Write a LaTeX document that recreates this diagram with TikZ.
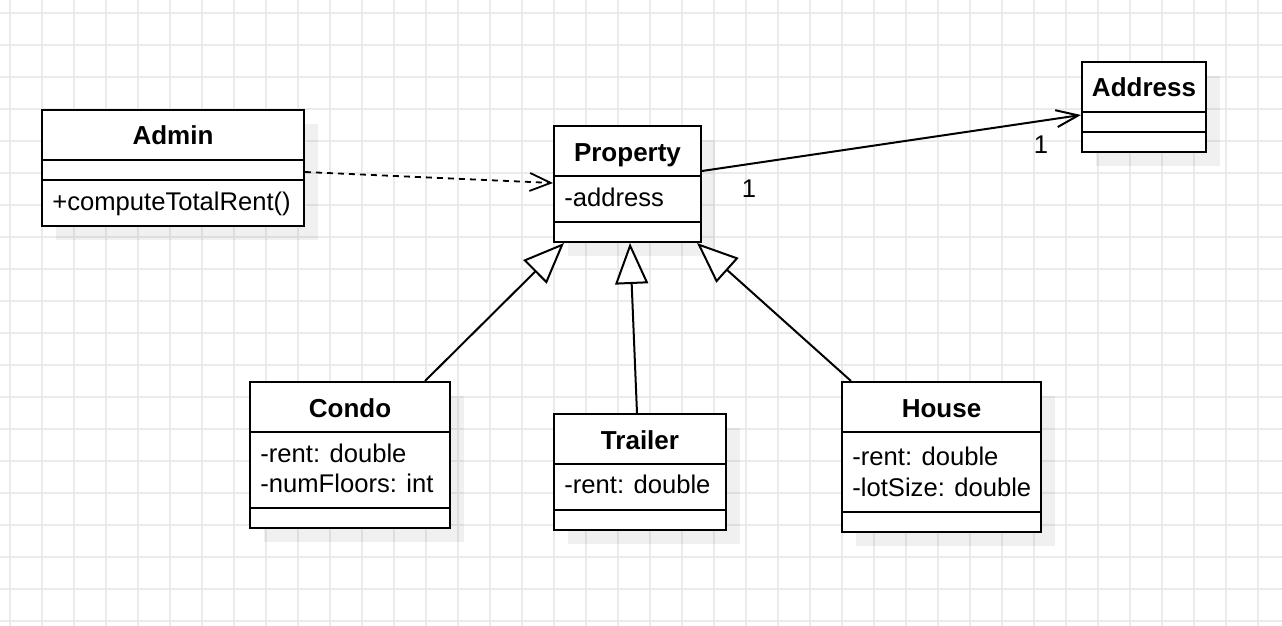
\documentclass[tikz,border=0pt]{standalone}
\usepackage{fontspec}
\setmainfont{Liberation Sans}
\usetikzlibrary{arrows.meta}
\usetikzlibrary{calc}
\usetikzlibrary{fit}
\usetikzlibrary{shadows}

\tikzset{
  classbox/.style={draw, line width=1pt, fill=white, inner sep=0pt,
    drop shadow={shadow xshift=7pt, shadow yshift=-7pt, fill=black, opacity=0.06}},
  classname/.style={inner sep=0pt, anchor=base, font=\fontsize{13}{15}\selectfont\bfseries},
  member/.style={inner sep=0pt, anchor=base west, font=\fontsize{12.8}{15}\selectfont},
  mult/.style={inner sep=0pt, anchor=base, font=\fontsize{12.8}{15}\selectfont},
  gridline/.style={draw=black!8, line width=0.8pt},
  sepline/.style={line width=1pt},
  dependency/.style={line width=0.9pt, dash pattern=on 3pt off 2.5pt,
    -{Straight Barb[length=10.5pt,width=9pt]}},
  association/.style={line width=1pt, -{Straight Barb[length=11pt,width=8.5pt]}},
  inherit/.style={line width=1pt, -{Triangle[length=20.5pt,width=16.5pt,fill=white]}}
}

\begin{document}
\begin{tikzpicture}[x=0.5pt,y=-0.5pt]
\useasboundingbox (0,0) rectangle (1282,626);
\fill[white] (0,0) rectangle (1282,626);

% grid
\foreach \gx in {10,42,...,1282} \draw[gridline] (\gx,0) -- (\gx,626);
\foreach \gy in {13,45,...,626} \draw[gridline] (0,\gy) -- (1282,\gy);

% classes
\node[classbox, fit={(42,110) (304,226)}] (admin) {};
\draw[sepline] (42,160) -- (304,160);
\draw[sepline] (42,180) -- (304,180);
\node[classname] (admin name) at (173,145) {Admin};
\node[member] (admin op) at (52,211) {+computeTotalRent()};

\node[classbox, fit={(554,126) (701,242)}] (property) {};
\draw[sepline] (554,176) -- (701,176);
\draw[sepline] (554,222) -- (701,222);
\node[classname] (property name) at (627.5,161.5) {Property};
\node[member] (property attr) at (564,206) {-address};

\node[classbox, fit={(1082,62) (1206,152)}] (address) {};
\draw[sepline] (1082,112) -- (1206,112);
\draw[sepline] (1082,132) -- (1206,132);
\node[classname] (address name) at (1144,96.5) {Address};

\node[classbox, fit={(250,382) (450,528)}] (condo) {};
\draw[sepline] (250,432) -- (450,432);
\draw[sepline] (250,508) -- (450,508);
\node[classname] (condo name) at (350,417) {Condo};
\node[member] (condo rent) at (260,462) {-rent: double};
\node[member] (condo floors) at (260,492) {-numFloors: int};

\node[classbox, fit={(554,414) (726,530)}] (trailer) {};
\draw[sepline] (554,464) -- (726,464);
\draw[sepline] (554,510) -- (726,510);
\node[classname] (trailer name) at (640,449) {Trailer};
\node[member] (trailer rent) at (564,494) {-rent: double};

\node[classbox, fit={(842,382) (1041,532)}] (house) {};
\draw[sepline] (842,432) -- (1041,432);
\draw[sepline] (842,512) -- (1041,512);
\node[classname] (house name) at (941.5,417) {House};
\node[member] (house rent) at (852,466) {-rent: double};
\node[member] (house lot) at (852,496) {-lotSize: double};

% relations
\draw[dependency] ($(admin.east)+(0,4)$) -- ($(property.west)+(0,-1)$);
\draw[association] ($(property.east)+(0,-13)$) -- ($(address.west)+(0,8)$);
\node[mult] (mult property) at (749,198) {1};
\node[mult] (mult address) at (1041,154) {1};

\draw[inherit] ($(condo.north east)+(-26,0)$) -- ($(property.south west)+(11,0)$);
\draw[inherit] ($(trailer.north)+(-3,0)$) -- ($(property.south)+(2.5,0)$);
\draw[inherit] ($(house.north west)+(10,0)$) -- ($(property.south east)+(-5,0)$);
\end{tikzpicture}
\end{document}
